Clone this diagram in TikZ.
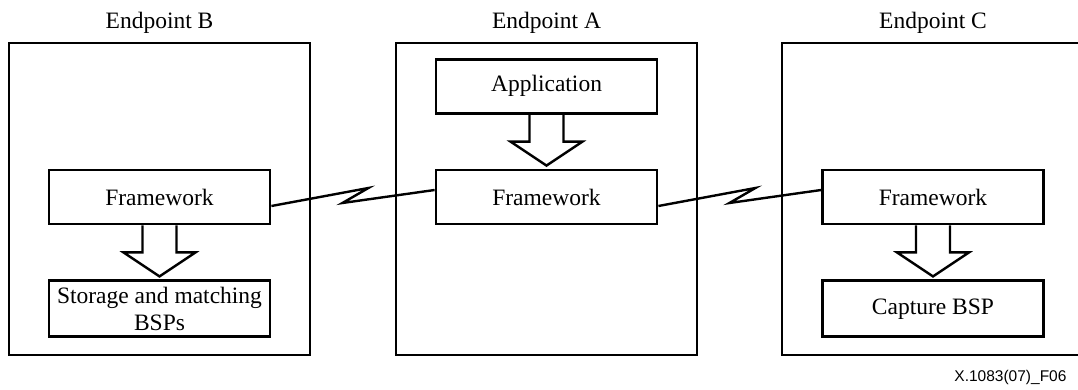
\documentclass[tikz,border=0pt]{standalone}
\usepackage{fontspec}
\setmainfont{Liberation Serif}
\newfontfamily\codefont{Liberation Sans}
\usepackage{tikz}
\usetikzlibrary{calc,positioning}

% hollow block arrow from one block down to the next
\newcommand{\blockarrow}[2]{%
  \draw[hollow] ($(#1.south)+(-17,0)$) -- ($(#1.south)+(-17,27)$)
    -- ($(#1.south)+(-36,27)$) -- ($(#2.north)+(0,-3)$)
    -- ($(#1.south)+(36,27)$) -- ($(#1.south)+(17,27)$)
    -- ($(#1.south)+(17,0)$);}
% broken link between two frameworks
\newcommand{\zigzag}[2]{%
  \draw[link] ($(#1.east)+(0,9)$) -- ++(97,-18) -- ++(-26,15)
    -- ($(#2.west)+(0,-7)$);}

\begin{document}
\begin{tikzpicture}[x=1pt,y=-1pt,
  every node/.style={font=\fontsize{23.5}{27}\selectfont},
  frame/.style={draw,line width=2.8pt,minimum width=301pt,minimum height=312pt},
  block/.style={draw,line width=2.8pt,minimum width=221pt,minimum height=54pt,align=center,inner sep=1pt},
  hollow/.style={line width=2.4pt,line join=miter},
  link/.style={line width=2.4pt},
  title/.style={anchor=base},
  code/.style={anchor=base east,font=\codefont\fontsize{15.5}{18}\selectfont}]
	\useasboundingbox (0,0) rectangle (1078,390);
	\clip (0,0) rectangle (1078,390);

	% endpoints
	\node[frame] (epB) at (159.5,199) {};
	\node[frame] (epA) at (546.5,199) {};
	\node[frame,minimum width=320pt] (epC) at (942,199) {};
	\node[title] (tB) at (159.5,29) {Endpoint B};
	\node[title] (tA) at (546.5,29) {Endpoint A};
	\node[title] (tC) at (933,29) {Endpoint C};

	% blocks
	\node[block] (fwB) at (159.5,197) {Framework};
	\node[block] (fwA) at (546.5,197) {Framework};
	\node[block] (fwC) at (933,197) {Framework};
	\node[block,minimum height=56pt,below=54pt of fwB] (stB) {Storage and matching\\BSPs};
	\node[block,above=54pt of fwA] (appA) {Application};
	\node[block,minimum height=56pt,below=54pt of fwC] (capC) {Capture BSP};

	\blockarrow{fwB}{stB}
	\blockarrow{appA}{fwA}
	\blockarrow{fwC}{capC}

	\zigzag{fwB}{fwA}
	\zigzag{fwA}{fwC}

	\node[code] (fig) at (1070,381) {X.1083(07)\_F06};
\end{tikzpicture}
\end{document}
